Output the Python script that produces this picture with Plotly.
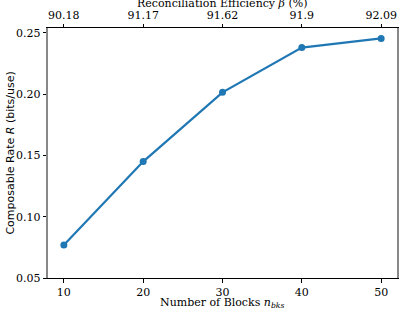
import plotly.graph_objects as go

n_blocks = [10, 20, 30, 40, 50]
rate = [0.077, 0.145, 0.2015, 0.238, 0.2455]
beta_labels = ["90.18", "91.17", "91.62", "91.9", "92.09"]
y_ticks = [0.05, 0.10, 0.15, 0.20, 0.25]

serif = "'DejaVu Serif', 'Liberation Serif', serif"
sans = "'DejaVu Sans', sans-serif"
blue = "#1f77b4"

fig = go.Figure()
fig.add_trace(go.Scatter(
    x=n_blocks, y=rate, mode="lines+markers",
    line=dict(color=blue, width=2.2),
    marker=dict(color=blue, size=7),
    showlegend=False, xaxis="x", yaxis="y",
))
fig.add_trace(go.Scatter(
    x=n_blocks, y=rate, mode="markers", marker=dict(opacity=0),
    showlegend=False, hoverinfo="skip", xaxis="x2", yaxis="y",
))

tick_common = dict(ticks="outside", ticklen=3.5, tickcolor="black", tickwidth=0.8,
                   showgrid=False, zeroline=False, automargin=False,
                   tickfont=dict(family=serif, size=11, color="black"))

fig.update_layout(
    width=399, height=313,
    margin=dict(l=48, r=2, t=28, b=35),
    plot_bgcolor="white", paper_bgcolor="white",
    xaxis=dict(
        range=[8, 52], tickvals=n_blocks, ticktext=[str(v) for v in n_blocks],
        showline=True, linecolor="black", linewidth=1, **tick_common,
    ),
    xaxis2=dict(
        range=[8, 52], overlaying="x", side="top",
        tickvals=n_blocks, ticktext=beta_labels,
        showline=True, linecolor="black", linewidth=1, **tick_common,
    ),
    yaxis=dict(
        range=[0.05, 0.254], tickvals=y_ticks,
        ticktext=["%.2f" % v for v in y_ticks],
        showline=True, linecolor="#888888", linewidth=1.5, mirror=True,
        **tick_common,
    ),
    annotations=[
        dict(text="Reconciliation Efficiency <i>β</i> (%)", xref="paper", yref="paper",
             x=0.5, y=1.098, xanchor="center", yanchor="middle", showarrow=False,
             font=dict(family=serif, size=11, color="black")),
        dict(text="Number of Blocks <i>n<sub>bks</sub></i>", xref="paper", yref="paper",
             x=0.5, y=-0.1, xanchor="center", yanchor="middle", showarrow=False,
             font=dict(family=serif, size=11, color="black")),
        dict(text="Composable Rate <i>R</i> (bits/use)", xref="paper", yref="paper",
             x=-0.11, y=0.5, xanchor="center", yanchor="middle", showarrow=False,
             textangle=-90, font=dict(family=sans, size=11, color="black")),
    ],
)

fig.write_html("out.html", config={"displayModeBar": False},
               post_script="document.body.style.margin='0';document.body.style.padding='0';")
